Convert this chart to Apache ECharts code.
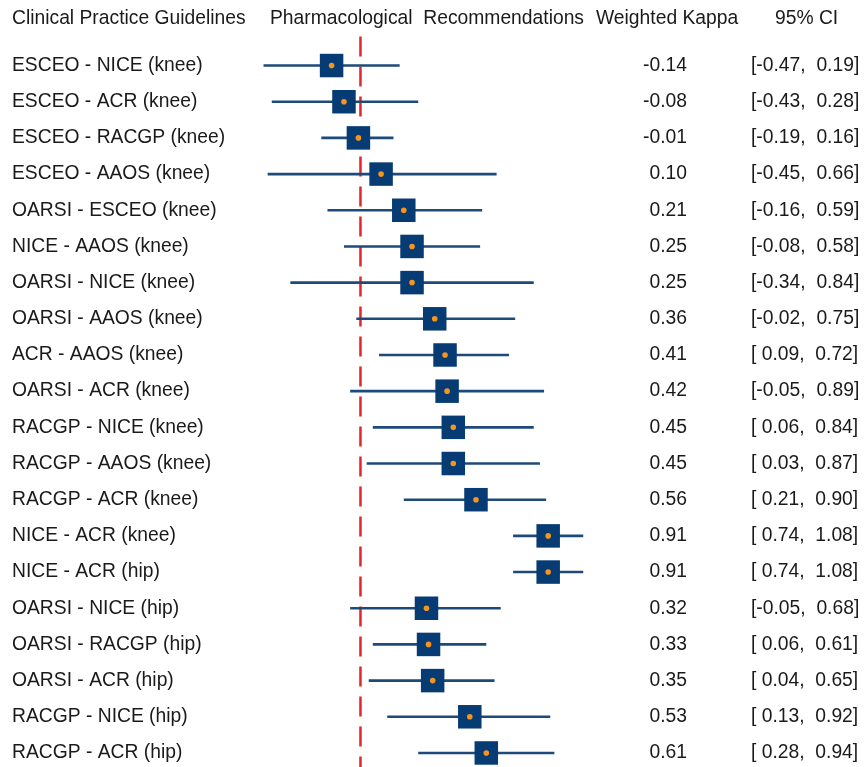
<!DOCTYPE html>
<html>
<head>
<meta charset="utf-8">
<script src="https://cdn.jsdelivr.net/npm/echarts@6/dist/echarts.min.js"></script>
<style>
html,body{margin:0;padding:0;background:#fff;}
#chart{width:866px;height:767px;}
</style>
</head>
<body>
<div id="chart"></div>
<script>
const categories = [
  'ESCEO - NICE (knee)', 'ESCEO - ACR (knee)', 'ESCEO - RACGP (knee)', 'ESCEO - AAOS (knee)',
  'OARSI - ESCEO (knee)', 'NICE - AAOS (knee)', 'OARSI - NICE (knee)', 'OARSI - AAOS (knee)',
  'ACR - AAOS (knee)', 'OARSI - ACR (knee)', 'RACGP - NICE (knee)', 'RACGP - AAOS (knee)',
  'RACGP - ACR (knee)', 'NICE - ACR (knee)', 'NICE - ACR (hip)', 'OARSI - NICE (hip)',
  'OARSI - RACGP (hip)', 'OARSI - ACR (hip)', 'RACGP - NICE (hip)', 'RACGP - ACR (hip)'
];
const kappa = [-0.14, -0.08, -0.01, 0.10, 0.21, 0.25, 0.25, 0.36, 0.41, 0.42, 0.45, 0.45, 0.56, 0.91, 0.91, 0.32, 0.33, 0.35, 0.53, 0.61];
const ciLow = [-0.47, -0.43, -0.19, -0.45, -0.16, -0.08, -0.34, -0.02, 0.09, -0.05, 0.06, 0.03, 0.21, 0.74, 0.74, -0.05, 0.06, 0.04, 0.13, 0.28];
const ciHigh = [0.19, 0.28, 0.16, 0.66, 0.59, 0.58, 0.84, 0.75, 0.72, 0.89, 0.84, 0.87, 0.90, 1.08, 1.08, 0.68, 0.61, 0.65, 0.92, 0.94];
const headers = ['Clinical Practice Guidelines', 'Pharmacological  Recommendations', 'Weighted Kappa', '95% CI'];

const FONT = '"Liberation Sans", Arial, sans-serif';
const FS = 19.3;
const NAVY = '#063c73';
const LINE = '#1d4a78';
const ORANGE = '#f7941d';
const RED = '#e3242b';
const TXT = '#1a1a1a';

const rows = categories.map((c, i) => [i, kappa[i], ciLow[i], ciHigh[i]]);
const fmt = v => (v < 0 ? v.toFixed(2) : ' ' + v.toFixed(2));

const chart = echarts.init(document.getElementById('chart'), null, {renderer: 'canvas'});
chart.setOption({
  animation: false,
  backgroundColor: '#fff',
  grid: {left: 236.7, width: 371.3, top: 36.6, height: 723.6},
  xAxis: {type: 'value', min: -0.6, max: 1.2, show: false},
  yAxis: {type: 'value', min: -0.8, max: 19.2, inverse: true, show: false},
  graphic: [
    {type: 'text', left: 12, top: 9, style: {text: headers[0], font: FS + 'px ' + FONT, fill: TXT}},
    {type: 'text', left: 270, top: 9, style: {text: headers[1], font: FS + 'px ' + FONT, fill: TXT}},
    {type: 'text', left: 596, top: 9, style: {text: headers[2], font: FS + 'px ' + FONT, fill: TXT}},
    {type: 'text', left: 775, top: 9, style: {text: headers[3], font: FS + 'px ' + FONT, fill: TXT}}
  ],
  series: [
    {
      type: 'line',
      data: [[0, -0.8], [0, 20.2]],
      symbol: 'none',
      clip: false,
      lineStyle: {color: RED, width: 2.5, type: [20, 10]},
      silent: true,
      z: 1
    },
    {
      type: 'custom',
      data: rows,
      clip: false,
      z: 2,
      encode: {x: [1, 2, 3], y: 0},
      renderItem: function (params, api) {
        const i = api.value(0);
        const pk = api.coord([api.value(1), i]);
        const pl = api.coord([api.value(2), i]);
        const ph = api.coord([api.value(3), i]);
        const s = 23.5;
        const y = pk[1];
        return {
          type: 'group',
          children: [
            {type: 'line', shape: {x1: pl[0], y1: y, x2: ph[0], y2: y}, style: {stroke: LINE, lineWidth: 2.6}},
            {type: 'rect', shape: {x: pk[0] - s / 2, y: y - s / 2, width: s, height: s}, style: {fill: NAVY}},
            {type: 'circle', shape: {cx: pk[0], cy: y, r: 2.8}, style: {fill: ORANGE}},
            {type: 'text', x: 12, y: y, style: {text: categories[i], font: FS + 'px ' + FONT, fill: TXT, textAlign: 'left', textVerticalAlign: 'middle'}},
            {type: 'text', x: 687, y: y, style: {text: kappa[i].toFixed(2), font: FS + 'px ' + FONT, fill: TXT, textAlign: 'right', textVerticalAlign: 'middle'}},
            {type: 'text', x: 751, y: y, style: {text: '[' + fmt(ciLow[i]) + ',  ' + ciHigh[i].toFixed(2) + ']', font: FS + 'px ' + FONT, fill: TXT, textAlign: 'left', textVerticalAlign: 'middle'}}
          ]
        };
      }
    }
  ]
});
</script>
</body>
</html>
